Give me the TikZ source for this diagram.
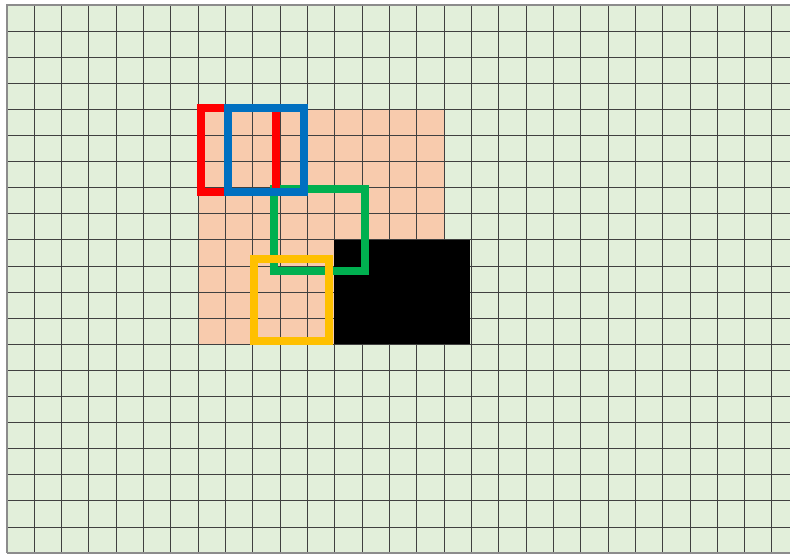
\documentclass[tikz,border=0pt]{standalone}
\definecolor{bgc}{HTML}{E2EFDA}
\definecolor{peach}{HTML}{F8CBAD}
\definecolor{rred}{HTML}{FF0000}
\definecolor{rblue}{HTML}{0070C0}
\definecolor{rgreen}{HTML}{00B050}
\definecolor{ryellow}{HTML}{FFC000}
\tikzset{
  gridline/.style={draw=black!75, line width=1pt},
  frame/.style={line width=7.5pt, line join=miter}
}
\begin{document}
\begin{tikzpicture}[x=1pt,y=-1pt]
\useasboundingbox (0,0) rectangle (790,554);
\fill[white] (0,0) rectangle (790,554);
\fill[bgc] (7,5) rectangle (790,553);
% peach region
\fill[peach] (198.2,109.4) rectangle (444.1,344.3);
% grid
\foreach \k in {0,...,28}{
  \draw[gridline] ({7+27.32*\k},5) -- ({7+27.32*\k},553);
}
\foreach \k in {0,...,21}{
  \draw[gridline] (7,{5+26.1*\k}) -- (790,{5+26.1*\k});
}
\draw[black!45, line width=1.2pt] (7,553) -- (7,5) -- (790,5);
\draw[black!45, line width=1.2pt] (7,553) -- (790,553);
% black region on top of grid
\fill[black] (333.5,240) rectangle (469.5,344);
% frames
\draw[frame, rgreen] (274,189) rectangle (365,271);
\draw[frame, rred] (201,108) rectangle (276,192);
\draw[frame, rblue] (228,108) rectangle (304,192);
\draw[frame, ryellow] (254,259) rectangle (329,341);
\end{tikzpicture}
\end{document}
